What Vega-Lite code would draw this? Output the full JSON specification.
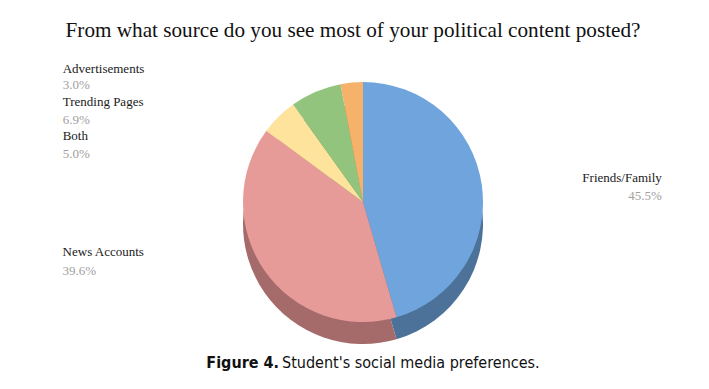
{
  "$schema": "https://vega.github.io/schema/vega-lite/v6.json",
  "width": 692,
  "height": 314,
  "autosize": {"type": "none"},
  "padding": {"left": 17, "top": 45, "right": 0, "bottom": 30},
  "background": "white",
  "config": {"view": {"stroke": null}},
  "layer": [
    {
      "data": {"values": [{"heading": "From what source do you see most of your political content posted?"}]},
      "mark": {
        "type": "text",
        "font": "Liberation Serif",
        "fontSize": 21.2,
        "color": "#111111",
        "align": "center",
        "baseline": "alphabetic",
        "x": {"expr": "width/2 - 10"},
        "y": {"expr": "-8"}
      },
      "encoding": {"text": {"field": "heading", "type": "nominal"}}
    },
    {
      "data": {
        "values": [
          {"category": "Friends/Family", "share": 0.455, "rank": 1},
          {"category": "News Accounts", "share": 0.396, "rank": 2},
          {"category": "Both", "share": 0.05, "rank": 3},
          {"category": "Trending Pages", "share": 0.069, "rank": 4},
          {"category": "Advertisements", "share": 0.03, "rank": 5}
        ]
      },
      "encoding": {
        "theta": {"field": "share", "type": "quantitative", "stack": true},
        "order": {"field": "rank", "type": "quantitative", "sort": "ascending"}
      },
      "layer": [
        {
          "mark": {"type": "arc", "outerRadius": 120, "yOffset": 22},
          "encoding": {
            "color": {
              "field": "category",
              "type": "nominal",
              "legend": null,
              "scale": {
                "domain": ["Friends/Family", "News Accounts", "Both", "Trending Pages", "Advertisements"],
                "range": ["#4c7299", "#a46b6a", "#b5a06c", "#678a57", "#ad7c4a"]
              }
            }
          }
        },
        {
          "mark": {"type": "arc", "outerRadius": 120},
          "encoding": {
            "color": {
              "field": "category",
              "type": "nominal",
              "legend": null,
              "scale": {
                "domain": ["Friends/Family", "News Accounts", "Both", "Trending Pages", "Advertisements"],
                "range": ["#6fa5dc", "#e69b99", "#fde39b", "#93c47d", "#f6b26b"]
              }
            }
          }
        },
        {
          "mark": {
            "type": "text",
            "radius": 120,
            "font": "Liberation Serif",
            "fontSize": 13,
            "color": "#1a1a1a",
            "baseline": "alphabetic",
            "align": {"expr": "datum.category === 'Friends/Family' ? 'right' : 'left'"},
            "dx": {"expr": "datum.category === 'Advertisements' ? -289 : datum.category === 'Trending Pages' ? -253 : datum.category === 'Both' ? -216 : datum.category === 'News Accounts' ? -202 : 180"},
            "dy": {"expr": "datum.category === 'Advertisements' ? -10 : datum.category === 'Trending Pages' ? 14 : datum.category === 'Both' ? 23 : datum.category === 'News Accounts' ? -15 : -3"}
          },
          "encoding": {"text": {"field": "category", "type": "nominal"}}
        },
        {
          "mark": {
            "type": "text",
            "radius": 120,
            "font": "Liberation Serif",
            "fontSize": 13,
            "color": "#a0a0a0",
            "baseline": "alphabetic",
            "align": {"expr": "datum.category === 'Friends/Family' ? 'right' : 'left'"},
            "dx": {"expr": "datum.category === 'Advertisements' ? -289 : datum.category === 'Trending Pages' ? -253 : datum.category === 'Both' ? -216 : datum.category === 'News Accounts' ? -202 : 180"},
            "dy": {"expr": "datum.category === 'Advertisements' ? 6.5 : datum.category === 'Trending Pages' ? 32 : datum.category === 'Both' ? 41 : datum.category === 'News Accounts' ? 4.5 : 15"}
          },
          "encoding": {"text": {"field": "share", "type": "quantitative", "format": ".1%"}}
        }
      ],
      "resolve": {"scale": {"color": "independent"}}
    },
    {
      "data": {"values": [{"caption": "Figure 4."}]},
      "mark": {
        "type": "text",
        "font": "DejaVu Sans Condensed, Roboto",
        "fontSize": 16,
        "fontWeight": "bold",
        "color": "#111111",
        "align": "right",
        "baseline": "alphabetic",
        "x": {"expr": "width/2 - 84"},
        "y": {"expr": "height + 9"}
      },
      "encoding": {"text": {"field": "caption", "type": "nominal"}}
    },
    {
      "data": {"values": [{"caption": "Student's social media preferences."}]},
      "mark": {
        "type": "text",
        "font": "DejaVu Sans Condensed, Roboto",
        "fontSize": 16,
        "color": "#111111",
        "align": "left",
        "baseline": "alphabetic",
        "x": {"expr": "width/2 - 81"},
        "y": {"expr": "height + 9"}
      },
      "encoding": {"text": {"field": "caption", "type": "nominal"}}
    }
  ]
}
